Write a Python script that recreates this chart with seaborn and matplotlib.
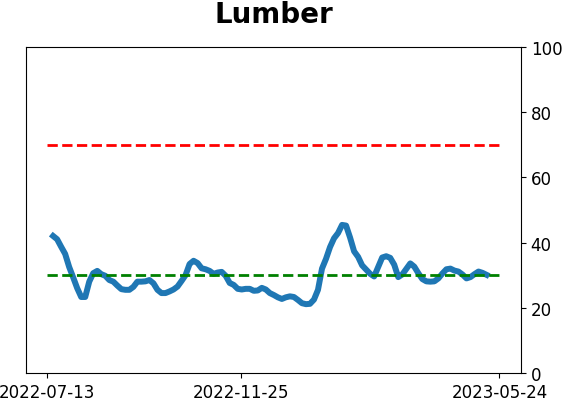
import matplotlib
matplotlib.use('Agg')
import matplotlib.pyplot as plt
import pandas as pd
import seaborn as sns

# readings of the lumber line, about every 2.8 days
values = [42, 41, 38.7, 36.5, 32.5, 29.3, 26, 23.3, 23.3, 28,
          30.6, 31.3, 30.3, 29.8, 28.5, 28, 26.8, 25.7, 25.5, 25.5,
          26.4, 28, 28, 28.1, 28.5, 27.5, 25.5, 24.5, 24.5, 25,
          25.6, 26.5, 28.2, 30, 33.4, 34.4, 33.7, 32.1, 31.8, 31.3,
          30.4, 30.8, 31, 29.8, 27.6, 27, 25.8, 25.6, 25.8, 25.8,
          25.2, 25.3, 26.1, 25.6, 24.5, 23.9, 23.2, 22.7, 23.2, 23.5,
          23.3, 22.4, 21.4, 21.1, 21.2, 22.5, 25.5, 32, 35, 38.6,
          41.3, 42.9, 45.4, 45.2, 41.5, 37.3, 35.6, 33, 31.7, 30.4,
          29.6, 32.5, 35.4, 35.8, 35.3, 33.2, 29.4, 30.2, 31.9, 33.6,
          32.6, 30.6, 28.8, 28.1, 28, 28.1, 29, 30.5, 31.8, 32,
          31.4, 31.1, 30.2, 29, 29.4, 30.3, 31.1, 30.7, 30.1]
start, end = '2022-07-17', '2023-05-15'
tick_dates = ['2022-07-13', '2022-11-25', '2023-05-24']
upper, lower = 70, 30

df = pd.DataFrame({'date': pd.date_range(start, end, periods=len(values)),
                   'value': values})
ticks = pd.to_datetime(tick_dates)

fig = plt.figure(figsize=(5.62, 4.02), dpi=100)
ax = fig.add_axes([0.046, 0.0697, 0.881, 0.8113])

sns.lineplot(data=df, x='date', y='value', ax=ax, color='#1f77b4', linewidth=4.3)
ax.hlines(upper, ticks[0], ticks[-1], colors='red', linestyles='--', linewidth=2)
ax.hlines(lower, ticks[0], ticks[-1], colors='green', linestyles='--', linewidth=2)

ax.set_ylim(0, 100)
ax.set_xlim(pd.Timestamp('2022-06-28'), pd.Timestamp('2023-06-08'))
ax.set_xticks(ticks)
ax.set_xticklabels(tick_dates, fontsize=12)
ax.yaxis.tick_right()
ax.set_yticks([0, 20, 40, 60, 80, 100])
ax.tick_params(axis='y', labelsize=12)
ax.set_xlabel('')
ax.set_ylabel('')
ax.set_title('Lumber', fontsize=20, fontweight='bold', pad=18)

fig.savefig('out.png', dpi=100)
